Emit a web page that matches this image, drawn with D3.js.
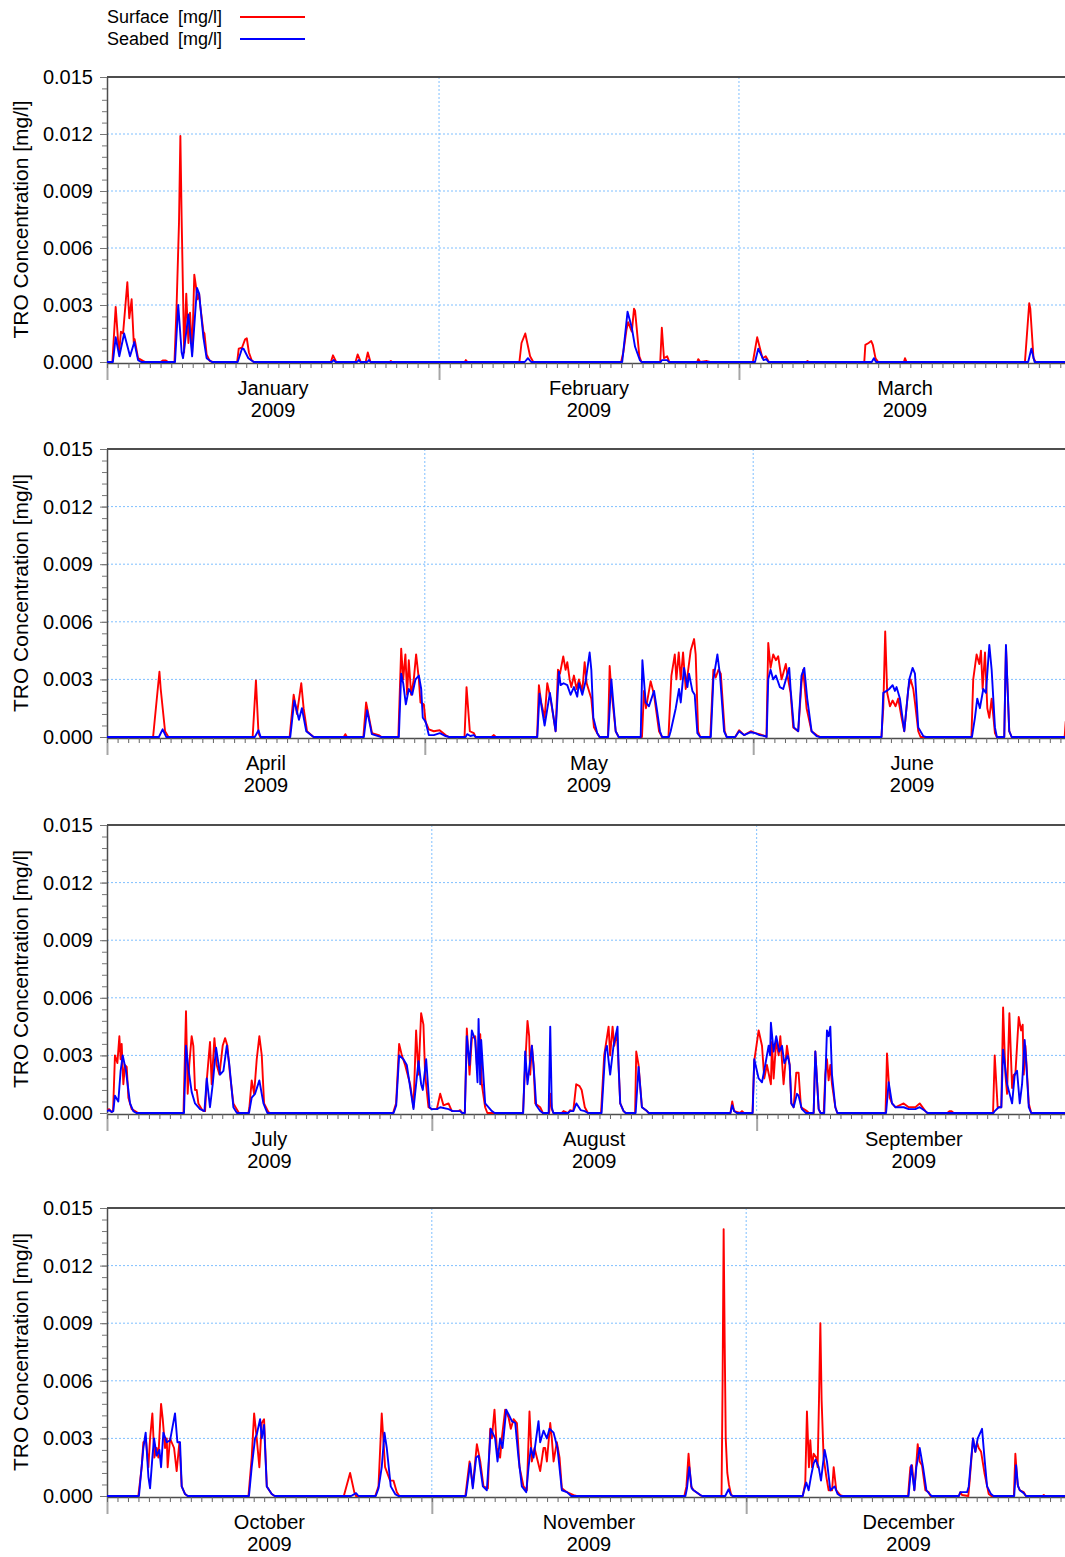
<!DOCTYPE html>
<html>
<head>
<meta charset="utf-8">
<script src="https://cdn.jsdelivr.net/npm/d3@7"></script>
<style>
  body { margin: 0; background: #fff; }
  text { font-family: Arial, "Liberation Sans", sans-serif; fill: #000; }
</style>
</head>
<body>
<svg id="chart" width="1065" height="1557"></svg>
<script>
// TRO concentration time series for 2009.
// Each point: [day of year (0 = 1 Jan 2009 00:00), concentration in mg/l].

const surfaceQ1 = [
  [0,0],[0.5,0],[0.81,0.0029],[1.05,0.001],[1.15,0.0006],[1.3,0.0016],[1.5,0.0015],[1.9,0.0042],[2.08,0.0023],[2.3,0.0033],[2.5,0.001],[2.58,0.0012],[2.9,0.0002],[3.4,0.00005],[3.6,0],
  [5.0,0],[5.2,0.00008],[5.5,0.00008],[5.7,0],
  [6.3,0],[6.5,0.003],[6.72,0.0073],[6.85,0.0119],[6.97,0.0075],[7.2,0.0005],[7.4,0.0036],[7.6,0.001],[7.75,0.0026],[7.95,0.0005],[8.15,0.0046],[8.3,0.004],[8.45,0.0033],[8.6,0.0036],[8.7,0.003],[9.0,0.0016],[9.1,0.0015],[9.3,0.0004],[9.6,0.00005],[9.9,0],
  [12.15,0],[12.3,0.0007],[12.6,0.00075],[12.9,0.0012],[13.05,0.00125],[13.25,0.0005],[13.5,0.0001],[13.7,0],
  [20.9,0],[21.1,0.00035],[21.4,0],
  [23.2,0],[23.4,0.0004],[23.7,0],[24.15,0],[24.35,0.0005],[24.6,0],
  [26.4,0],[26.5,0.00005],[26.6,0],
  [33.4,0],[33.5,0.0001],[33.65,0],
  [38.5,0],[38.7,0.001],[39.05,0.0015],[39.5,0.0003],[39.8,0],
  [48.0,0],[48.2,0.0005],[48.5,0.0017],[48.65,0.0021],[49.0,0.0016],[49.2,0.0028],[49.3,0.0027],[49.7,0.0003],[49.9,0],
  [51.65,0],[51.8,0.0018],[52.0,0.0002],[52.3,0.0003],[52.5,0],
  [55.1,0],[55.2,0.00015],[55.4,0],[56.0,0.00005],[56.3,0],
  [60.3,0],[60.7,0.0013],[61.2,0.0002],[61.5,0.0003],[61.8,0],
  [65.3,0],[65.4,0.00005],[65.5,0],
  [70.7,0],[70.8,0.0009],[71.1,0.001],[71.35,0.0011],[71.5,0.0009],[71.75,0.0002],[72.0,0],
  [74.4,0],[74.5,0.0002],[74.65,0],
  [85.7,0],[86.1,0.0031],[86.2,0.0028],[86.5,0.0002],[86.7,0],[90,0]
];

const seabedQ1 = [
  [0,0],[0.55,0],[0.81,0.0013],[1.15,0.0003],[1.6,0.0015],[2.15,0.0003],[2.55,0.00105],[2.9,0.0001],[3.2,0],
  [6.35,0],[6.65,0.003],[6.97,0.0005],[7.1,0.0002],[7.6,0.0025],[7.95,0.0003],[8.4,0.0039],[8.6,0.0036],[9.0,0.0013],[9.3,0.0002],[9.8,0],
  [12.2,0],[12.6,0.0007],[12.75,0.0007],[13.2,0.0002],[13.7,0],
  [21.0,0],[21.15,0.0001],[21.35,0],[23.35,0],[23.5,0.0001],[23.65,0],[24.3,0],[24.45,0.0001],[24.6,0],
  [39.0,0],[39.3,0.0002],[39.6,0],
  [48.1,0],[48.6,0.00265],[49.0,0.0018],[49.3,0.0008],[49.75,0.0001],[49.9,0],
  [51.7,0],[51.8,0.0001],[52.3,0.0001],[52.45,0],
  [60.5,0],[60.8,0.0007],[61.3,0.0001],[61.55,0.00015],[61.75,0],
  [71.4,0],[71.6,0.0002],[71.8,0],
  [86.0,0],[86.3,0.0007],[86.6,0],[90,0]
];

const surfaceQ2 = [
  [90,0],[94.35,0],[94.95,0.0034],[95.07,0.0025],[95.48,0.0003],[95.8,0],
  [103.75,0],[104.06,0.00295],[104.3,0.0002],[104.47,0],
  [107.24,0],[107.62,0.0022],[107.93,0.0012],[108.34,0.0028],[108.56,0.0015],[108.88,0.0003],[109.5,0],
  [112.35,0],[112.5,0.00015],[112.65,0],
  [114.2,0],[114.46,0.0018],[115.02,0.0002],[115.65,0.0001],[115.9,0],
  [117.5,0],[117.77,0.0046],[117.96,0.003],[118.17,0.0043],[118.33,0.0022],[118.49,0.004],[118.71,0.0022],[118.96,0.003],[119.18,0.0043],[119.44,0.003],[119.59,0.0018],[119.91,0.0017],[120.07,0.0008],[120.38,0.0004],[120.85,0.0003],[121.4,0.00035],[121.96,0.0001],[122.27,0],
  [123.75,0],[123.94,0.0026],[124.25,0.0003],[124.63,0.0002],[124.8,0],
  [126.3,0],[126.52,0.0001],[126.7,0],
  [130.6,0],[130.77,0.0027],[130.99,0.0018],[131.31,0.001],[131.56,0.0028],[131.87,0.002],[132.35,0.0003],[132.57,0.0035],[132.76,0.0033],[133.07,0.0042],[133.29,0.0035],[133.45,0.0039],[133.67,0.003],[133.83,0.0026],[134.08,0.0032],[134.33,0.0025],[134.55,0.003],[134.87,0.0024],[135.09,0.0039],[135.28,0.0028],[135.5,0.0024],[135.72,0.002],[135.97,0.0005],[136.28,0.0002],[136.5,0],
  [137.29,0],[137.45,0.0037],[137.6,0.0025],[138.02,0.0003],[138.3,0],
  [140.5,0],[140.69,0.0024],[140.88,0.0015],[141.32,0.0029],[141.64,0.0022],[142.11,0.0003],[142.4,0],
  [143.0,0],[143.28,0.0032],[143.6,0.0043],[143.75,0.003],[143.97,0.0044],[144.16,0.003],[144.38,0.0044],[144.63,0.0025],[145.1,0.0045],[145.42,0.0051],[145.57,0.0043],[145.8,0.0003],[146.0,0],
  [146.95,0],[147.24,0.0035],[147.46,0.0031],[147.72,0.0035],[147.94,0.0033],[148.31,0.0003],[148.5,0],
  [149.3,0],[149.67,0.00035],[150.14,0.0001],[150.77,0.0003],[151.2,0.0002],[151.6,0.00015],[152.1,0.00005],[152.25,0],
  [152.42,0.0049],[152.64,0.0036],[152.89,0.0043],[153.14,0.004],[153.36,0.0042],[153.68,0.003],[154.08,0.0038],[154.3,0.003],[154.53,0.0023],[154.78,0.0005],[155.25,0.0003],[155.56,0.0028],[155.72,0.0035],[155.88,0.0025],[156.04,0.0015],[156.51,0.0003],[156.98,0.0001],[157.3,0],
  [163.1,0],[163.28,0.0015],[163.46,0.0055],[163.65,0.0023],[163.91,0.0016],[164.16,0.0019],[164.44,0.0016],[164.69,0.002],[165.01,0.001],[165.26,0.0003],[165.64,0.0025],[165.86,0.003],[166.11,0.0025],[166.27,0.0018],[166.58,0.0003],[166.8,0],
  [171.6,0],[171.77,0.003],[172.09,0.0043],[172.34,0.0038],[172.5,0.0045],[172.66,0.0025],[172.88,0.0044],[173.1,0.0015],[173.29,0.001],[173.51,0.002],[173.82,0.0002],[174.0,0],
  [174.7,0],[174.86,0.0047],[175.17,0.0003],[175.4,0],
  [180.4,0],[180.5,0.0008],[180.7,0],[181,0]
];

const seabedQ2 = [
  [90,0],[94.9,0],[95.25,0.0004],[95.6,0],
  [103.95,0],[104.3,0.00035],[104.5,0],
  [107.3,0],[107.68,0.0019],[108.12,0.0009],[108.4,0.0015],[108.81,0.0003],[109.5,0],
  [114.25,0],[114.55,0.0014],[115.0,0.00015],[115.6,0.00005],[115.9,0],
  [117.55,0],[117.77,0.0033],[117.96,0.0028],[118.21,0.0017],[118.49,0.0025],[118.81,0.0022],[119.12,0.003],[119.44,0.0032],[119.66,0.0025],[119.81,0.001],[120.07,0.0008],[120.38,0.0001],[120.85,0.0001],[121.42,0.0002],[121.96,0.00005],[122.3,0],
  [123.85,0],[124.0,0.00015],[124.3,0.00005],[124.63,0.0001],[124.8,0],
  [130.62,0],[130.83,0.00225],[131.31,0.0006],[131.81,0.0023],[132.35,0.0003],[132.66,0.0034],[132.82,0.0027],[133.1,0.0028],[133.45,0.0027],[133.76,0.0022],[134.08,0.0026],[134.39,0.0021],[134.55,0.0028],[134.87,0.0022],[135.18,0.0029],[135.56,0.0044],[135.72,0.0035],[135.91,0.001],[136.28,0.0002],[136.5,0],
  [137.3,0],[137.61,0.003],[138.02,0.0003],[138.3,0],
  [140.38,0],[140.54,0.004],[140.85,0.0018],[141.16,0.0016],[141.64,0.0024],[141.89,0.0015],[142.2,0.0003],[142.4,0],
  [143.05,0],[143.21,0.0003],[143.69,0.0015],[144.0,0.0025],[144.16,0.0018],[144.47,0.0036],[144.79,0.0026],[144.94,0.0033],[145.26,0.0024],[145.48,0.0022],[145.73,0.0002],[146.0,0],
  [147.0,0],[147.24,0.003],[147.62,0.0043],[147.87,0.0032],[148.25,0.0003],[148.5,0],
  [149.3,0],[149.67,0.0003],[150.14,0.0001],[150.77,0.00025],[151.2,0.0002],[151.6,0.0001],[152.1,0.00005],[152.27,0],
  [152.42,0.003],[152.64,0.0035],[152.89,0.003],[153.14,0.0032],[153.52,0.0026],[153.83,0.0025],[154.4,0.0036],[154.53,0.0025],[154.84,0.0005],[155.25,0.0003],[155.56,0.0032],[155.82,0.0036],[156.1,0.002],[156.51,0.0003],[156.98,0.00005],[157.3,0],
  [163.12,0],[163.28,0.0023],[163.59,0.0024],[163.84,0.0025],[164.16,0.0027],[164.38,0.0024],[164.53,0.0026],[164.85,0.002],[165.26,0.0003],[165.73,0.003],[166.05,0.0036],[166.27,0.0033],[166.58,0.0005],[167.05,0.00005],[167.3,0],
  [171.65,0],[171.93,0.001],[172.15,0.002],[172.4,0.0015],[172.72,0.0025],[172.97,0.0023],[173.29,0.0048],[173.51,0.0035],[173.82,0.0005],[174.0,0],
  [174.7,0],[174.86,0.0048],[175.17,0.0003],[175.4,0],[181,0]
];

const surfaceQ3 = [
  [181,0.00015],[181.2,0.0002],[181.45,0.00005],[181.58,0.0001],[181.76,0.003],[181.99,0.0026],[182.18,0.004],[182.3,0.0028],[182.4,0.0036],[182.56,0.0015],[182.72,0.0025],[182.88,0.0024],[183.04,0.0008],[183.36,0.0002],[183.83,0.00005],[184.0,0],
  [188.3,0],[188.54,0.0053],[188.7,0.001],[188.85,0.0025],[189.08,0.004],[189.24,0.0035],[189.4,0.0012],[189.56,0.0012],[189.72,0.0005],[190.04,0.0002],[190.2,0.0001],[190.36,0.0001],[190.52,0.0017],[190.83,0.0037],[190.99,0.0015],[191.25,0.0039],[191.47,0.0025],[191.73,0.002],[192.04,0.0035],[192.27,0.0039],[192.49,0.0035],[192.74,0.002],[193.06,0.0005],[193.38,0.0002],[193.6,0],
  [194.5,0],[194.59,0.0003],[194.81,0.0017],[195.04,0.001],[195.29,0.0028],[195.54,0.004],[195.77,0.003],[195.99,0.0005],[196.4,0.00005],[196.6,0],
  [208.3,0],[208.59,0.0005],[208.88,0.0036],[209.14,0.003],[209.45,0.0025],[209.93,0.0015],[210.25,0.0003],[210.5,0.0043],[210.73,0.002],[210.98,0.0052],[211.2,0.0046],[211.36,0.002],[211.68,0.0003],[211.84,0.00025],[212.0,0.0002],[212.48,0.0002],[212.8,0.001],[213.11,0.0004],[213.59,0.0005],[213.91,0.0001],[214.55,0.0001],[214.7,0.00015],[214.9,0],
  [215.15,0],[215.34,0.0044],[215.6,0.002],[215.82,0.0039],[216.14,0.004],[216.3,0.0025],[216.62,0.0041],[216.77,0.0015],[217.09,0.0003],[217.3,0],
  [220.7,0],[220.91,0.0025],[221.13,0.0048],[221.29,0.004],[221.39,0.002],[221.55,0.0035],[221.71,0.0025],[221.87,0.0005],[222.34,0.0003],[222.6,0],
  [223.2,0],[223.3,0.001],[223.45,0.0002],[223.6,0],
  [224.4,0],[224.57,0.0001],[225.0,0],[225.2,0.00015],[225.5,0.0001],[225.78,0.0015],[226.1,0.0014],[226.3,0.0012],[226.6,0.0003],[226.9,0],
  [228.15,0],[228.45,0.003],[228.87,0.0045],[229.02,0.003],[229.25,0.0045],[229.41,0.0035],[229.66,0.0042],[229.82,0.0025],[229.98,0.0005],[230.3,0.0001],[230.5,0],
  [231.4,0],[231.51,0.0032],[231.73,0.0025],[232.05,0.0003],[232.53,0.0001],[232.7,0],
  [240.5,0],[240.67,0.0006],[240.85,0.0001],[241.4,0],[241.6,0.0001],[241.8,0],
  [242.6,0],[242.77,0.0027],[243.19,0.0043],[243.51,0.0035],[243.73,0.0018],[243.98,0.0025],[244.36,0.0015],[244.46,0.0037],[244.62,0.0018],[244.87,0.0038],[245.1,0.003],[245.26,0.004],[245.42,0.0027],[245.57,0.0015],[245.89,0.0035],[246.15,0.0025],[246.31,0.0005],[246.53,0.0003],[246.78,0.0021],[247.0,0.0021],[247.23,0.0003],[247.8,0.0001],[248.0,0],
  [248.44,0],[248.6,0.0032],[248.92,0.0002],[249.1,0],
  [249.4,0],[249.55,0.002],[249.71,0.0028],[249.87,0.0017],[250.03,0.0025],[250.19,0.0015],[250.51,0.0003],[250.7,0],
  [255.3,0],[255.44,0.0031],[255.7,0.0008],[255.92,0.0005],[256.24,0.0003],[257.03,0.0005],[257.51,0.0003],[258.15,0.0003],[258.56,0.0005],[259.1,0.0001],[259.3,0],
  [261.2,0],[261.4,0.0001],[261.6,0.0001],[261.8,0],
  [265.56,0],[265.72,0.003],[266.0,0.0003],[266.35,0.0003],[266.52,0.0055],[266.74,0.002],[266.9,0.001],[267.12,0.0052],[267.38,0.0013],[267.54,0.002],[267.69,0.002],[268.01,0.005],[268.23,0.0043],[268.39,0.0046],[268.49,0.002],[268.65,0.0035],[268.97,0.0005],[269.2,0],[273,0]
];

const seabedQ3 = [
  [181,0.0001],[181.2,0.00015],[181.45,0.00005],[181.6,0.0001],[181.76,0.0009],[182.08,0.0006],[182.3,0.0022],[182.5,0.003],[182.81,0.0022],[183.2,0.0005],[183.51,0.0001],[183.8,0],
  [188.35,0],[188.54,0.0035],[188.77,0.0023],[189.08,0.0011],[189.4,0.0005],[189.88,0.0002],[190.3,0.0001],[190.52,0.0018],[190.83,0.0003],[191.09,0.0015],[191.41,0.0034],[191.79,0.002],[192.11,0.0022],[192.43,0.0035],[192.68,0.0025],[193.06,0.0003],[193.4,0],
  [194.55,0],[194.81,0.0008],[195.13,0.001],[195.54,0.0017],[195.93,0.0005],[196.3,0],
  [208.35,0],[208.6,0.0004],[208.88,0.003],[209.29,0.0028],[209.61,0.0025],[210.03,0.001],[210.25,0.0002],[210.73,0.0027],[210.98,0.0015],[211.14,0.0012],[211.46,0.0028],[211.78,0.0003],[212.0,0.0002],[212.5,0.0002],[212.8,0.0003],[213.6,0.0002],[214.0,0.0001],[214.7,0.0001],[214.9,0],
  [215.15,0],[215.34,0.004],[215.6,0.0025],[215.82,0.0043],[216.14,0.0038],[216.36,0.0016],[216.46,0.0049],[216.62,0.0015],[216.71,0.0038],[217.09,0.0005],[217.73,0.0001],[218.0,0],
  [220.72,0],[220.91,0.0032],[221.13,0.0015],[221.55,0.0035],[221.77,0.002],[221.96,0.0004],[222.34,0.0001],[222.6,0],
  [223.15,0],[223.3,0.0045],[223.45,0.0003],[223.6,0],
  [225.0,0],[225.2,0.0001],[225.5,0.0001],[225.8,0.0005],[226.2,0.00015],[226.6,0.0001],[226.9,0],
  [228.2,0],[228.55,0.0032],[228.71,0.0035],[229.02,0.002],[229.34,0.0035],[229.72,0.0045],[229.82,0.0025],[229.98,0.0005],[230.3,0.0001],[230.5,0],
  [231.45,0],[231.73,0.0024],[232.05,0.0003],[232.53,0.0001],[232.7,0],
  [240.5,0],[240.67,0.0004],[240.85,0.0001],[241.1,0],
  [242.62,0],[242.77,0.0028],[243.19,0.0018],[243.51,0.0016],[243.82,0.0025],[244.14,0.0035],[244.28,0.003],[244.36,0.0047],[244.62,0.0032],[244.87,0.004],[245.16,0.0032],[245.42,0.0035],[245.64,0.0026],[245.96,0.003],[246.15,0.0025],[246.31,0.0005],[246.53,0.0003],[246.85,0.001],[247.0,0.0009],[247.32,0.0002],[247.7,0],
  [248.44,0],[248.6,0.0032],[248.92,0.0002],[249.1,0],
  [249.45,0],[249.71,0.0043],[249.87,0.004],[250.03,0.0045],[250.19,0.002],[250.51,0.0003],[250.7,0],
  [255.35,0],[255.6,0.0016],[255.92,0.0005],[256.24,0.0003],[257.03,0.0003],[257.51,0.0002],[258.15,0.0002],[258.56,0.0003],[259.1,0.0001],[259.3,0],
  [265.6,0],[265.72,0.0001],[266.1,0.0003],[266.35,0.0003],[266.52,0.0033],[266.9,0.0015],[267.38,0.0005],[267.63,0.002],[267.85,0.0022],[268.11,0.0005],[268.33,0.0015],[268.58,0.0038],[268.74,0.0025],[268.97,0.0003],[269.2,0],[273,0]
];

const surfaceQ4 = [
  [273,0],[275.99,0],[276.31,0.0015],[276.47,0.0028],[276.72,0.0029],[276.95,0.0015],[277.11,0.003],[277.33,0.0043],[277.52,0.002],[277.74,0.0025],[277.9,0.002],[278.16,0.0048],[278.32,0.004],[278.54,0.0025],[278.7,0.003],[278.79,0.0015],[279.02,0.003],[279.17,0.0028],[279.4,0.0025],[279.65,0.0013],[279.91,0.0028],[280.13,0.0005],[280.45,0.0001],[280.7,0],
  [286.5,0],[286.81,0.002],[287.04,0.0043],[287.29,0.003],[287.54,0.0015],[287.77,0.0038],[287.99,0.004],[288.25,0.0005],[288.72,0.0001],[289.0,0],
  [295.6,0],[296.2,0.0012],[296.6,0.0002],[296.77,0],
  [298.6,0],[298.91,0.0005],[299.22,0.0043],[299.54,0.0015],[300.02,0.0008],[300.34,0.0008],[300.66,0.0002],[300.9,0],
  [307.2,0],[307.6,0.0018],[307.91,0.0005],[308.3,0.0027],[308.62,0.0018],[308.93,0.0005],[309.35,0.0004],[309.57,0.0035],[309.73,0.003],[309.98,0.0045],[310.2,0.0025],[310.52,0.002],[310.68,0.003],[311.0,0.0045],[311.32,0.0041],[311.54,0.0035],[311.8,0.004],[312.12,0.0038],[312.37,0.0015],[312.75,0.0005],[313.07,0.0003],[313.32,0.0044],[313.55,0.0018],[313.8,0.0025],[314.34,0.0013],[314.66,0.0025],[314.82,0.0025],[314.98,0.0018],[315.3,0.0038],[315.45,0.003],[315.62,0.0018],[315.93,0.0028],[316.19,0.002],[316.41,0.0004],[316.89,0.0002],[317.53,0.00005],[317.8,0],
  [328.1,0],[328.3,0.0005],[328.5,0.0022],[328.75,0.0005],[328.98,0.0003],[329.62,0.00005],[329.8,0],
  [331.65,0],[331.75,0.006],[331.85,0.0139],[331.95,0.008],[332.05,0.003],[332.2,0.0012],[332.35,0.0006],[332.55,0.0001],[332.7,0],
  [339.4,0],[339.64,0.0007],[339.8,0.0044],[339.99,0.0015],[340.12,0.0029],[340.28,0.0015],[340.44,0.0022],[340.69,0.002],[340.82,0.0015],[340.95,0.005],[341.08,0.009],[341.2,0.005],[341.39,0.002],[341.65,0.001],[341.87,0.0003],[342.2,0.0003],[342.35,0.0015],[342.6,0.0003],[342.98,0.00005],[343.2,0],
  [349.45,0],[349.67,0.0015],[349.83,0.0016],[350.05,0.0003],[350.15,0.001],[350.37,0.0027],[350.56,0.0018],[350.78,0.0016],[351.1,0.0003],[351.42,0.0002],[351.6,0],
  [354.3,0],[354.44,0.0002],[354.6,0.00005],[355.2,0],[355.33,0.0008],[355.65,0.003],[355.87,0.0023],[356.03,0.0028],[356.19,0.0025],[356.42,0.0023],[356.74,0.0012],[357.15,0.0001],[357.4,0],
  [359.55,0],[359.69,0.0022],[359.9,0.0006],[360.11,0.0003],[360.49,0.0002],[360.7,0],
  [362.3,0],[362.4,0.00005],[362.5,0],[365,0]
];

const seabedQ4 = [
  [273,0],[276.05,0],[276.47,0.0025],[276.69,0.0033],[276.95,0.001],[277.11,0.0004],[277.33,0.002],[277.49,0.003],[277.74,0.0021],[278.0,0.0024],[278.16,0.0015],[278.38,0.0033],[278.7,0.0028],[279.02,0.0029],[279.49,0.0043],[279.72,0.0028],[279.97,0.0028],[280.13,0.0005],[280.45,0.0001],[280.7,0],
  [286.55,0],[286.81,0.0015],[287.13,0.003],[287.29,0.0032],[287.61,0.004],[287.77,0.003],[287.99,0.0037],[288.25,0.0005],[288.72,0.0001],[289.0,0],
  [296.3,0],[296.77,0.00015],[297.0,0],
  [298.65,0],[298.91,0.0004],[299.22,0.0015],[299.48,0.0033],[299.7,0.0025],[300.08,0.0005],[300.5,0.0001],[300.8,0],
  [307.25,0],[307.66,0.0017],[307.91,0.0004],[308.23,0.002],[308.46,0.0021],[308.87,0.0005],[309.25,0.0003],[309.63,0.0035],[309.88,0.0032],[310.04,0.003],[310.27,0.0018],[310.52,0.003],[310.75,0.0025],[311.1,0.0045],[311.38,0.0042],[311.64,0.0039],[311.96,0.0038],[312.27,0.002],[312.59,0.0005],[313.01,0.0002],[313.23,0.0015],[313.45,0.0025],[313.71,0.002],[314.18,0.0039],[314.34,0.0028],[314.66,0.0034],[314.98,0.003],[315.23,0.0035],[315.62,0.0033],[315.99,0.0025],[316.41,0.0003],[316.89,0.0002],[317.3,0],
  [328.2,0],[328.35,0.0004],[328.57,0.0015],[328.8,0.0004],[328.98,0.0003],[329.62,0.00005],[329.8,0],
  [332.0,0],[332.32,0.00035],[332.55,0.00005],[332.7,0],
  [339.4,0],[339.48,0.0002],[339.74,0.0007],[339.96,0.0003],[340.18,0.001],[340.44,0.0017],[340.63,0.0019],[340.92,0.0015],[341.14,0.0008],[341.49,0.0024],[341.71,0.0018],[342.03,0.0003],[342.44,0.0005],[342.73,0.0001],[343.0,0],
  [349.5,0],[349.76,0.0016],[350.05,0.0003],[350.24,0.0015],[350.56,0.0025],[350.88,0.0015],[351.2,0.0003],[351.51,0.0001],[351.7,0],
  [354.3,0],[354.44,0.0002],[354.76,0.0002],[355.08,0.0002],[355.24,0.0005],[355.65,0.003],[355.87,0.0023],[356.1,0.003],[356.51,0.0035],[356.74,0.002],[356.99,0.0005],[357.37,0.0001],[357.6,0],
  [359.58,0],[359.76,0.0016],[359.95,0.0005],[360.11,0.0003],[360.49,0.00015],[360.7,0],[365,0]
];

// Axis values and labels
const yTicks = [0, 0.003, 0.006, 0.009, 0.012, 0.015];
const yMinorStep = 0.0006;
const yTitle = "TRO Concentration [mg/l]";
const seriesLabels = ["Surface", "Seabed"];
const unitLabel = "[mg/l]";
const seriesColors = ["#ff0000", "#0000ff"];

// One panel per quarter
const panels = [
  { from: Date.UTC(2009, 0, 1), to: Date.UTC(2009, 3, 1),  top: 77,   zero: 362,  surface: surfaceQ1, seabed: seabedQ1 },
  { from: Date.UTC(2009, 3, 1), to: Date.UTC(2009, 6, 1),  top: 449,  zero: 737,  surface: surfaceQ2, seabed: seabedQ2 },
  { from: Date.UTC(2009, 6, 1), to: Date.UTC(2009, 9, 1),  top: 825,  zero: 1113, surface: surfaceQ3, seabed: seabedQ3 },
  { from: Date.UTC(2009, 9, 1), to: Date.UTC(2010, 0, 1),  top: 1208, zero: 1496, surface: surfaceQ4, seabed: seabedQ4 }
];

const plotLeft = 107, plotRight = 1071;
const yearStart = Date.UTC(2009, 0, 1);
const toDate = doy => new Date(yearStart + doy * 864e5);

const svg = d3.select("#chart");
const gridColor = "#7fbfff";
const axisColor = "#4d4d4d";

// Legend
const legend = svg.append("g").attr("class", "legend");
seriesLabels.forEach((name, i) => {
  const by = 23 + i * 22;
  legend.append("text").attr("x", 107).attr("y", by).attr("font-size", 18).text(name);
  legend.append("text").attr("x", 178).attr("y", by).attr("font-size", 18).text(unitLabel);
  legend.append("line")
    .attr("x1", 240).attr("x2", 305)
    .attr("y1", by - 6).attr("y2", by - 6)
    .attr("stroke", seriesColors[i]).attr("stroke-width", 1.8);
});

const minorTicks = d3.range(Math.round(0.015 / yMinorStep) + 1).map(i => +(i * yMinorStep).toFixed(5));

panels.forEach((p, idx) => {
  const from = new Date(p.from), to = new Date(p.to);
  const x = d3.scaleUtc().domain([from, to]).range([plotLeft, plotRight]);
  const y = d3.scaleLinear().domain([0, 0.015]).range([p.zero, p.top]);
  const g = svg.append("g").attr("class", "panel");

  // Dotted grid
  g.append("g").selectAll("line").data(yTicks.filter(v => v > 0 && v < 0.015)).join("line")
    .attr("x1", plotLeft).attr("x2", plotRight)
    .attr("y1", d => y(d)).attr("y2", d => y(d))
    .attr("stroke", gridColor).attr("stroke-width", 1).attr("stroke-dasharray", "2,2");
  const months = d3.utcMonth.range(from, to);
  g.append("g").selectAll("line").data(months.slice(1)).join("line")
    .attr("x1", d => x(d)).attr("x2", d => x(d))
    .attr("y1", p.top).attr("y2", p.zero)
    .attr("stroke", gridColor).attr("stroke-width", 1).attr("stroke-dasharray", "2,2");

  // Bottom axis: daily ticks and longer month ticks
  const dayAxis = d3.axisBottom(x).tickValues(d3.utcDay.range(from, to)).tickSize(5).tickSizeOuter(0).tickFormat("");
  const monthAxis = d3.axisBottom(x).tickValues(months).tickSize(17).tickSizeOuter(0).tickFormat("");
  const gm = g.append("g").attr("transform", `translate(0,${p.zero + 1})`).call(monthAxis);
  gm.select(".domain").remove();
  gm.selectAll(".tick line").attr("stroke", "#a6a6a6").attr("stroke-width", 2);
  const gd = g.append("g").attr("transform", `translate(0,${p.zero + 1})`).call(dayAxis);
  gd.select(".domain").attr("stroke", axisColor).attr("stroke-width", 1.5);
  gd.selectAll(".tick line").attr("stroke", "#666").attr("stroke-width", 1);

  // Month and year labels
  const labels = g.append("g").selectAll("text").data(months).join("text")
    .attr("text-anchor", "middle").attr("font-size", 20)
    .attr("x", d => x(new Date((+d + +d3.utcMonth.offset(d, 1)) / 2)));
  labels.append("tspan").attr("y", p.zero + 33).attr("x", function() { return d3.select(this.parentNode).attr("x"); })
    .text(d3.utcFormat("%B"));
  labels.append("tspan").attr("y", p.zero + 55).attr("x", function() { return d3.select(this.parentNode).attr("x"); })
    .text(d3.utcFormat("%Y"));

  // Left axis
  const gMinor = g.append("g").attr("transform", `translate(${plotLeft},0)`)
    .call(d3.axisLeft(y).tickValues(minorTicks).tickSize(5).tickSizeOuter(0).tickFormat(""));
  gMinor.select(".domain").attr("stroke", axisColor).attr("stroke-width", 1.5);
  gMinor.selectAll(".tick line").attr("stroke", "#777");
  const gMajor = g.append("g").attr("transform", `translate(${plotLeft},0)`)
    .call(d3.axisLeft(y).tickValues(yTicks).tickSize(7).tickSizeOuter(0).tickPadding(7).tickFormat(d3.format(".3f")));
  gMajor.select(".domain").remove();
  gMajor.selectAll(".tick line").attr("stroke", "#777");
  gMajor.selectAll(".tick text").attr("font-size", 20).attr("font-family", "Arial, 'Liberation Sans', sans-serif").attr("fill", "#000");

  // Top frame line
  g.append("line").attr("x1", plotLeft).attr("x2", plotRight)
    .attr("y1", p.top).attr("y2", p.top)
    .attr("stroke", axisColor).attr("stroke-width", 2);

  // Y title
  g.append("text")
    .attr("transform", `translate(28,${(p.top + p.zero) / 2}) rotate(-90)`)
    .attr("text-anchor", "middle").attr("font-size", 21)
    .text(yTitle);

  // Series
  const clipId = "clip" + idx;
  svg.append("clipPath").attr("id", clipId).append("rect")
    .attr("x", plotLeft).attr("y", p.top - 2)
    .attr("width", plotRight - plotLeft).attr("height", p.zero - p.top + 4);
  const line = d3.line().x(d => x(toDate(d[0]))).y(d => y(d[1]));
  const series = [p.surface, p.seabed];
  g.append("g").attr("clip-path", `url(#${clipId})`)
    .selectAll("path").data(series).join("path")
    .attr("d", line)
    .attr("fill", "none")
    .attr("stroke", (d, i) => seriesColors[i])
    .attr("stroke-width", 1.9)
    .attr("stroke-linejoin", "round");
});
</script>
</body>
</html>
